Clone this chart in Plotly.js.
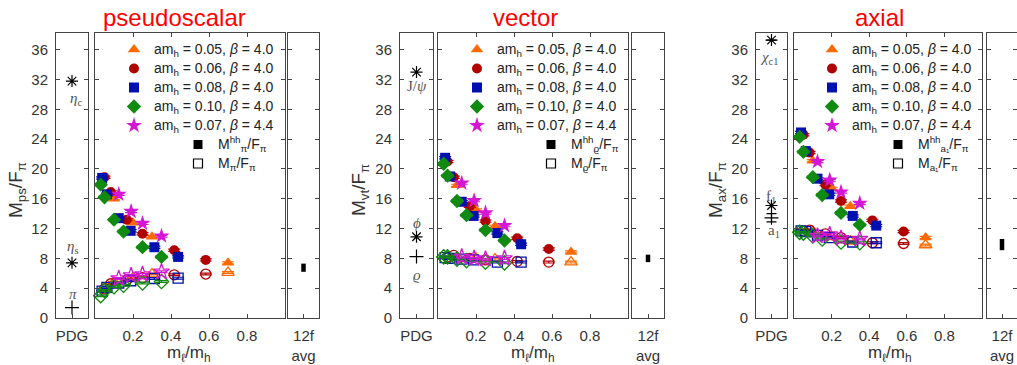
<!DOCTYPE html>
<html>
<head>
<meta charset="utf-8">
<script src="https://cdn.plot.ly/plotly-3.0.1.min.js"></script>
<style>html,body{margin:0;padding:0;background:#fff;}#plot{width:1017px;height:365px;}</style>
</head>
<body>
<div id="plot"></div>
<script>
// ---------------- data ----------------
// m_l/m_h of each ensemble
const xH005 = [0.10, 0.20, 0.30, 0.70];
const xH006 = [0.05, 0.083, 0.167, 0.25, 0.417, 0.583];
const xH008 = [0.0375, 0.0625, 0.125, 0.1875, 0.3125, 0.4375];
const xH010 = [0.03, 0.05, 0.10, 0.15, 0.25, 0.35];
const xH007 = [0.125, 0.19, 0.25, 0.35];

// pseudoscalar: heavy-heavy (filled) and light (open)
const psHH005 = [16.0, 12.8, 10.9, 7.4];
const psHH006 = [18.9, 16.9, 13.2, 11.3, 9.1, 7.8];
const psHH008 = [18.8, 16.6, 13.4, 11.7, 9.5, 8.2];
const psHH010 = [17.9, 16.2, 13.2, 11.6, 9.5, 8.2];
const psHH007 = [16.6, 14.3, 12.7, 11.0];
const psL005 = [4.8, 5.4, 5.9, 6.1];
const psL006 = [3.9, 4.6, 5.1, 5.4, 5.8, 5.9];
const psL008 = [3.6, 4.1, 4.7, 5.0, 5.3, 5.35];
const psL010 = [3.0, 3.7, 4.2, 4.4, 4.7, 4.9];
const psL007 = [5.3, 5.7, 5.85, 6.2];

// vector
const vtHH005 = [17.8, 14.5, 12.3, 8.85];
const vtHH006 = [21.0, 18.9, 15.0, 13.0, 10.7, 9.25];
const vtHH008 = [21.5, 19.0, 15.6, 13.7, 11.4, 9.9];
const vtHH010 = [20.7, 19.1, 15.7, 13.8, 11.8, 10.4];
const vtHH007 = [18.1, 15.75, 14.1, 12.4];
const vtL005 = [7.9, 8.0, 7.9, 7.5];
const vtL006 = [8.2, 8.4, 8.0, 7.8, 7.6, 7.5];
const vtL008 = [8.1, 8.0, 7.9, 7.8, 7.5, 7.5];
const vtL010 = [8.2, 8.2, 7.9, 7.7, 7.5, 7.4];
const vtL007 = [8.2, 8.0, 7.9, 8.0];

// axial
const axHH005 = [21.1, 17.4, 15.0, 10.8];
const axHH006 = [24.6, 22.2, 17.9, 15.7, 13.1, 11.6];
const axHH008 = [24.9, 22.4, 18.7, 16.6, 13.7, 12.4];
const axHH010 = [24.3, 22.3, 18.9, 16.5, 14.1, 12.5];
const axHH007 = [21.0, 18.5, 16.9, 15.4];
const axL005 = [11.6, 10.9, 10.3, 9.8];
const axL006 = [11.7, 11.8, 11.3, 10.8, 10.1, 10.0];
const axL008 = [11.7, 11.6, 11.1, 10.8, 10.2, 10.1];
const axL010 = [11.5, 11.4, 11.0, 10.6, 10.2, 10.1];
const axL007 = [11.0, 11.2, 10.7, 10.6];

// PDG states
const pdgPsNames = ['<i>η</i><sub>c</sub>', '<i>η</i><sub>s</sub>', '<i>π</i>'];
const pdgPsVals = [31.8, 7.4, 1.4];
const pdgVtNames = ['J/<i>ψ</i>', '<i>ϕ</i>', '<i>ϱ</i>'];
const pdgVtVals = [33.0, 10.9, 8.25];
const pdgAxNames = ['<i>χ</i><sub>c1</sub>', 'f<sub>1</sub>', 'a<sub>1</sub>'];
const pdgAxVals = [37.3, 15.1, 13.45];
const pdgAxErr = [0, 0, 0.55];

// 12-flavour averages
const avgVals = [6.75, 8.0, 9.85];
const avgErrs = [0.55, 0.5, 0.75];

const seriesNames = [
  'am<sub>h</sub> = 0.05, <i>β</i> = 4.0',
  'am<sub>h</sub> = 0.06, <i>β</i> = 4.0',
  'am<sub>h</sub> = 0.08, <i>β</i> = 4.0',
  'am<sub>h</sub> = 0.10, <i>β</i> = 4.0',
  'am<sub>h</sub> = 0.07, <i>β</i> = 4.4'
];
const hhLabels = ['M<sup>hh</sup><sub>π</sub>/F<sub>π</sub>', 'M<sup>hh</sup><sub>ϱ</sub>/F<sub>π</sub>', 'M<sup>hh</sup><sub>a₁</sub>/F<sub>π</sub>'];
const lLabels = ['M<sub>π</sub>/F<sub>π</sub>', 'M<sub>ϱ</sub>/F<sub>π</sub>', 'M<sub>a₁</sub>/F<sub>π</sub>'];
const panelTitles = ['pseudoscalar', 'vector', 'axial'];
const yTitles = ['M<sub>ps</sub>/F<sub>π</sub>', 'M<sub>vt</sub>/F<sub>π</sub>', 'M<sub>ax</sub>/F<sub>π</sub>'];
const xTitle = 'm<sub>ℓ</sub>/m<sub>h</sub>';

// ---------------- styling ----------------
const W = 1017, H = 365;
const px = v => v / W;
const py = v => 1 - v / H;
const FONT = 'Liberation Sans, Arial, sans-serif';
const colors = ['#ff6a00', '#b00000', '#0010b0', '#108a10', '#d516d5'];
const symbols = ['triangle-up', 'circle', 'square', 'diamond', 'star'];
const symSizes = [11, 10, 10, 11, 12];
const xs = [xH005, xH006, xH008, xH010, xH007];
const hh = [[psHH005, psHH006, psHH008, psHH010, psHH007],
            [vtHH005, vtHH006, vtHH008, vtHH010, vtHH007],
            [axHH005, axHH006, axHH008, axHH010, axHH007]];
const ll = [[psL005, psL006, psL008, psL010, psL007],
            [vtL005, vtL006, vtL008, vtL010, vtL007],
            [axL005, axL006, axL008, axL010, axL007]];
const pdgNames = [pdgPsNames, pdgVtNames, pdgAxNames];
const pdgVals = [pdgPsVals, pdgVtVals, pdgAxVals];
const pdgSyms = ['asterisk-open', 'asterisk-open', 'cross-thin-open'];
// pixel offsets of the PDG labels relative to their points
const pdgLabelDy = [[-18, 16, 14], [-14, 14, -18], [-18, 8, -13]];
const pdgLabelDx = [[4, 1, 1], [0, 0, 0], [-2, -1, 2]];

// panel geometry in pixels
const geo = [
  {pdg: [56, 88], main: [95, 285], avg: [288, 319], title: 174.5, ytitle: 17, xtitle: 189, leg: 279, leg2: 272},
  {pdg: [400, 433], main: [438, 628], avg: [632, 664], title: 525, ytitle: 360, xtitle: 533, leg: 622, leg2: 624},
  {pdg: [756, 787], main: [794, 982], avg: [987, 1019], title: 879, ytitle: 717, xtitle: 890, leg: 977, leg2: 974}
];
const yDom = [py(318), py(33)];

const id = n => (n === 1 ? '' : String(n));
const axisBase = {
  showline: true, linecolor: '#444', linewidth: 1, mirror: 'ticks',
  ticks: 'inside', ticklen: 4, tickcolor: '#444', tickwidth: 1,
  showgrid: false, zeroline: false,
  tickfont: {family: FONT, size: 15, color: '#333'}
};
const legText = t => '<span style="font-size:14px">' + t + '</span>';

const layout = {
  width: W, height: H, margin: {l: 0, r: 0, t: 0, b: 0},
  paper_bgcolor: '#fff', plot_bgcolor: '#fff',
  font: {family: FONT, color: '#222'},
  annotations: []
};
const traces = [];

for (let k = 0; k < 3; k++) {
  const g = geo[k];
  const nP = 3 * k + 1, nM = 3 * k + 2, nA = 3 * k + 3;
  const clip = v => Math.min(v, 1);
  // axes
  layout['xaxis' + id(nP)] = Object.assign({}, axisBase, {
    domain: [px(g.pdg[0]), px(g.pdg[1])], anchor: 'y' + id(nP), type: 'category',
    range: [-0.5, 0.5], mirror: true, ticklabelstandoff: 4
  });
  layout['yaxis' + id(nP)] = Object.assign({}, axisBase, {
    domain: yDom, anchor: 'x' + id(nP), range: [0, 38.25], tick0: 0, dtick: 4,
    ticklabelstandoff: 4
  });
  layout['xaxis' + id(nM)] = Object.assign({}, axisBase, {
    domain: [px(g.main[0]), px(g.main[1])], anchor: 'y' + id(nM),
    range: [0, 1.0], tickvals: [0.2, 0.4, 0.6, 0.8], ticktext: ['0.2', '0.4', '0.6', '0.8'],
    ticklabelstandoff: 4
  });
  layout['yaxis' + id(nM)] = Object.assign({}, axisBase, {
    domain: yDom, anchor: 'x' + id(nM), range: [0, 38.25], tick0: 0, dtick: 4,
    showticklabels: false
  });
  layout['xaxis' + id(nA)] = Object.assign({}, axisBase, {
    domain: [px(g.avg[0]), clip(px(g.avg[1]))], anchor: 'y' + id(nA), type: 'category',
    range: [-0.5, 0.5], mirror: true, ticklabelstandoff: 4
  });
  layout['yaxis' + id(nA)] = Object.assign({}, axisBase, {
    domain: yDom, anchor: 'x' + id(nA), range: [0, 38.25], tick0: 0, dtick: 4,
    showticklabels: false
  });

  const legS = 'legend' + id(2 * k + 1);
  const legM = 'legend' + id(2 * k + 2);
  layout[legS] = {
    x: px(g.leg), xanchor: 'right', y: py(35), yanchor: 'top', xref: 'paper', yref: 'paper',
    bgcolor: 'rgba(0,0,0,0)', borderwidth: 0, tracegroupgap: 0,
    font: {family: FONT, size: 11, color: '#222'}
  };
  layout[legM] = {
    x: px(g.leg2), xanchor: 'right', y: py(130), yanchor: 'top', xref: 'paper', yref: 'paper',
    bgcolor: 'rgba(0,0,0,0)', borderwidth: 0, tracegroupgap: 0,
    font: {family: FONT, size: 11, color: '#222'}
  };

  // light (open) data
  for (let s = 0; s < 5; s++) {
    traces.push({
      type: 'scatter', mode: 'markers', xaxis: 'x' + id(nM), yaxis: 'y' + id(nM),
      x: xs[s], y: ll[k][s], showlegend: false, cliponaxis: false,
      marker: {symbol: symbols[s] + '-open', size: symSizes[s], color: colors[s], line: {width: 1.3, color: colors[s]}},
      error_y: {type: 'constant', value: 0.12, width: 6, thickness: 1.2, color: colors[s]}
    });
  }
  // heavy-heavy (filled) data
  for (let s = 0; s < 5; s++) {
    traces.push({
      type: 'scatter', mode: 'markers', xaxis: 'x' + id(nM), yaxis: 'y' + id(nM),
      x: xs[s], y: hh[k][s], name: legText(seriesNames[s]), legend: legS, showlegend: true,
      marker: {symbol: symbols[s], size: symSizes[s], color: colors[s]},
      error_y: {type: 'constant', value: 0.15, width: 6, thickness: 1.2, color: colors[s]}
    });
  }
  // legend keys for filled / open
  traces.push({type: 'scatter', mode: 'markers', xaxis: 'x' + id(nM), yaxis: 'y' + id(nM),
    x: [null], y: [null], name: legText(hhLabels[k]), legend: legM, showlegend: true,
    marker: {symbol: 'square', size: 9, color: '#000'}});
  traces.push({type: 'scatter', mode: 'markers', xaxis: 'x' + id(nM), yaxis: 'y' + id(nM),
    x: [null], y: [null], name: legText(lLabels[k]), legend: legM, showlegend: true,
    marker: {symbol: 'square-open', size: 9, color: '#000', line: {width: 1.2, color: '#000'}}});

  // PDG
  traces.push({
    type: 'scatter', mode: 'markers', xaxis: 'x' + id(nP), yaxis: 'y' + id(nP),
    x: ['PDG', 'PDG', 'PDG'], y: pdgVals[k],
    showlegend: false, cliponaxis: false,
    marker: {symbol: pdgSyms, size: 10, color: '#000', line: {width: 1.2, color: '#000'}},
    error_y: k === 2 ? {type: 'data', array: pdgAxErr, width: 5, thickness: 1.2, color: '#000'} : {visible: false}
  });
  for (let i = 0; i < 3; i++) {
    layout.annotations.push({
      xref: 'x' + id(nP), yref: 'y' + id(nP), x: 0, y: pdgVals[k][i],
      xshift: pdgLabelDx[k][i], yshift: pdgLabelDy[k][i],
      showarrow: false, text: pdgNames[k][i], xanchor: 'center', yanchor: 'middle',
      font: {family: 'Liberation Serif, serif', size: 15, color: '#555'}
    });
  }
  // 12f average
  traces.push({
    type: 'scatter', mode: 'markers', xaxis: 'x' + id(nA), yaxis: 'y' + id(nA),
    x: ['12f<br>avg'], y: [avgVals[k]], showlegend: false,
    marker: {size: 1, color: '#000'},
    error_y: {type: 'data', array: [avgErrs[k]], width: 0, thickness: 4.5, color: '#000'}
  });

  // titles
  layout.annotations.push({xref: 'paper', yref: 'paper', x: px(g.title), y: py(17),
    xanchor: 'center', yanchor: 'middle', showarrow: false, text: panelTitles[k],
    font: {family: FONT, size: 24, color: '#ff0000'}});
  layout.annotations.push({xref: 'paper', yref: 'paper', x: px(g.ytitle), y: py(190),
    xanchor: 'center', yanchor: 'middle', showarrow: false, text: yTitles[k], textangle: -90,
    font: {family: FONT, size: 19, color: '#333'}});
  layout.annotations.push({xref: 'paper', yref: 'paper', x: px(g.xtitle), y: py(354),
    xanchor: 'center', yanchor: 'middle', showarrow: false, text: xTitle,
    font: {family: FONT, size: 17, color: '#333'}});
}

Plotly.newPlot('plot', traces, layout, {displayModeBar: false, staticPlot: true});
</script>
</body>
</html>
